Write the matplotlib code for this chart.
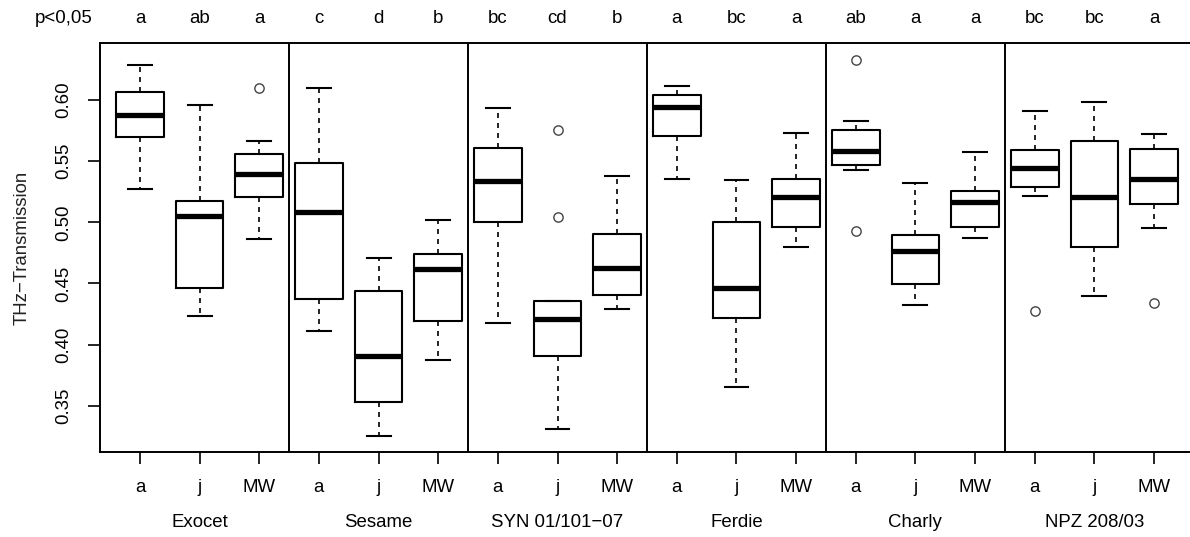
import matplotlib.pyplot as plt

plt.rcParams['font.family'] = ['Liberation Sans', 'DejaVu Sans']

sorten = ["Exocet", "Sesame", "SYN 01/101−07", "Ferdie", "Charly", "NPZ 208/03"]
stufen = ["a", "j", "MW"]
buchstaben = ["a", "ab", "a", "c", "d", "b", "bc", "cd", "b",
              "a", "bc", "a", "ab", "a", "a", "bc", "bc", "a"]

# Kennwerte je Box (von links nach rechts)
whisker_unten = [0.5275, 0.4231, 0.4863, 0.4111, 0.3252, 0.3871, 0.4174, 0.3312, 0.4288,
                 0.5354, 0.3655, 0.4798, 0.5428, 0.4321, 0.4871, 0.5215, 0.4400, 0.4951]
q1 = [0.5697, 0.4460, 0.5209, 0.4370, 0.3530, 0.4193, 0.5005, 0.3904, 0.4408,
      0.5708, 0.4215, 0.4964, 0.5468, 0.4495, 0.4964, 0.5291, 0.4800, 0.5149]
median = [0.5877, 0.5051, 0.5392, 0.5082, 0.3906, 0.4620, 0.5340, 0.4209, 0.4629,
          0.5940, 0.4460, 0.5209, 0.5585, 0.4763, 0.5163, 0.5446, 0.5209, 0.5356]
q3 = [0.6063, 0.5171, 0.5556, 0.5487, 0.4435, 0.4738, 0.5607, 0.4356, 0.4907,
      0.6041, 0.5005, 0.5354, 0.5755, 0.4899, 0.5258, 0.5591, 0.5665, 0.5597]
whisker_oben = [0.6284, 0.5959, 0.5665, 0.6098, 0.4708, 0.5019, 0.5932, 0.4356, 0.5381,
                0.6114, 0.5346, 0.5730, 0.5826, 0.5319, 0.5575, 0.5907, 0.5981, 0.5722]
ausreisser = [[], [], [0.610], [], [], [], [], [0.5757, 0.5041], [],
              [], [], [], [0.6327, 0.4931], [], [], [0.4274], [], [0.4337]]

stats = []
for i in range(len(median)):
    stats.append(dict(whislo=whisker_unten[i], q1=q1[i], med=median[i], q3=q3[i],
                      whishi=whisker_oben[i], fliers=ausreisser[i]))

fig = plt.figure(figsize=(11.9, 5.37), dpi=100)
ax = fig.add_axes([100 / 1190, 1 - 451.7 / 537, 1094 / 1190, 408.4 / 537])

pos = list(range(1, len(stats) + 1))
ax.bxp(stats, positions=pos, widths=0.8, capwidths=0.4,
       boxprops=dict(color="black", linewidth=1.5),
       whiskerprops=dict(color="black", linewidth=1.2, linestyle=(0, (3, 3))),
       capprops=dict(color="black", linewidth=1.5),
       medianprops=dict(color="black", linewidth=3.8, solid_capstyle="butt"),
       flierprops=dict(marker="o", markerfacecolor="none", markeredgecolor="#444444",
                       markersize=6.7, markeredgewidth=1.0))

for g in range(1, len(sorten)):
    ax.axvline(g * 3 + 0.5, color="black", linewidth=1.4)

ax.set_xlim(0.33, 18.67)
ax.set_ylim(0.3124, 0.6464)

ax.set_xticks(pos)
ax.set_xticklabels(stufen * len(sorten))
ax.set_yticks([0.35, 0.40, 0.45, 0.50, 0.55, 0.60])
ax.set_yticklabels(["0.35", "0.40", "0.45", "0.50", "0.55", "0.60"], rotation=90, va="center")
ax.tick_params(axis="both", length=8.4, width=1.2, labelsize=13.4)
ax.tick_params(axis="y", pad=11.5)
ax.tick_params(axis="x", pad=11)
for s in ax.spines.values():
    s.set_linewidth(1.4)

trans = ax.get_xaxis_transform()
for i, b in enumerate(buchstaben):
    ax.text(pos[i], 1.0504, b, transform=trans, ha="center", va="baseline",
            fontsize=13.4, clip_on=False)
ax.text(-0.286, 1.0504, "p<0,05", transform=trans, ha="center", va="baseline",
        fontsize=13.4, clip_on=False)

for g, name in enumerate(sorten):
    ax.text(g * 3 + 2, -0.1844, name, transform=trans, ha="center", va="baseline",
            fontsize=13.4, clip_on=False)

ax.set_ylabel("THz−Transmission", fontsize=13.4, va="center", color="#222222")
ax.yaxis.set_label_coords(-0.0713, 0.5)

fig.savefig("out.png", dpi=100)
